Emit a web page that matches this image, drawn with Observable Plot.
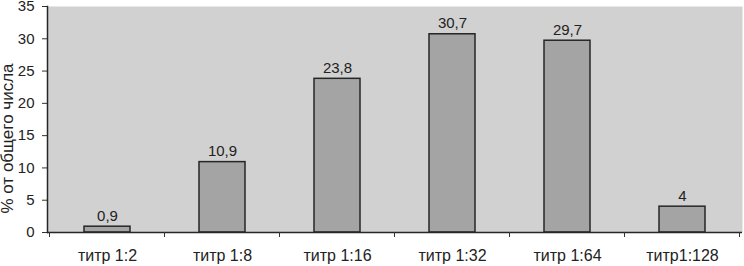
<!DOCTYPE html>
<html>
<head>
<meta charset="utf-8">
<script src="https://cdn.jsdelivr.net/npm/d3@7"></script>
<script src="https://cdn.jsdelivr.net/npm/@observablehq/plot@0.6"></script>
<style>
  body { margin: 0; background: #fff; }
  #chart svg { display: block; }
</style>
</head>
<body>
<div id="chart"></div>
<script>
const categories = ["титр 1:2", "титр 1:8", "титр 1:16", "титр 1:32", "титр 1:64", "титр1:128"];
const values = [0.9, 10.9, 23.8, 30.7, 29.7, 4];
const yTicks = [0, 5, 10, 15, 20, 25, 30, 35];
const yTitle = "% от общего числа";

const data = categories.map((c, i) => ({cat: c, value: values[i]}));
const fmt = v => String(v).replace(".", ",");

const chart = Plot.plot({
  width: 744,
  height: 266,
  marginLeft: 47,
  marginRight: 2,
  marginTop: 6,
  marginBottom: 34,
  style: {fontFamily: "'Liberation Sans', Arial, sans-serif", background: "#fff", color: "#222"},
  x: {type: "band", domain: categories, paddingInner: 0.6, paddingOuter: 0.3},
  y: {domain: [0, 35]},
  marks: [
    Plot.frame({fill: "#d1d1d1", stroke: null}),
    Plot.barY(data, {x: "cat", y: "value", fill: "#a4a4a4", stroke: "#262626", strokeWidth: 1.5}),
    Plot.text(data, {x: "cat", y: "value", text: d => fmt(d.value), dy: -6, lineAnchor: "bottom", fontSize: 15, fill: "#222"}),
    Plot.axisY({ticks: yTicks, tickSize: 5, tickPadding: 8, fontSize: 15, label: null, stroke: "#333"}),
    Plot.axisX({tickSize: 0, tickPadding: 17, fontSize: 16, label: null}),
    Plot.ruleY([0], {stroke: "#262626", strokeWidth: 1.5}),
    Plot.frame({anchor: "left", stroke: "#262626", strokeWidth: 1.5}),
    Plot.text([yTitle], {frameAnchor: "left", rotate: -90, dx: -40, dy: 19, fontSize: 17, textAnchor: "middle", lineAnchor: "middle", fill: "#222"})
  ]
});

document.getElementById("chart").appendChild(chart);

// boundary ticks between categories, positioned from the band scale
const sx = chart.scale("x");
const sy = chart.scale("y");
const gap = (sx.step - sx.bandwidth) / 2;
const y0 = sy.apply(0);
const bounds = categories.map(c => sx.apply(c) - gap);
bounds.push(sx.apply(categories[categories.length - 1]) + sx.bandwidth + gap);
const svg = d3.select(chart.tagName.toLowerCase() === "svg" ? chart : chart.querySelector("svg"));
svg.append("g")
  .attr("stroke", "#333")
  .attr("stroke-width", 1)
  .selectAll("line")
  .data(bounds)
  .join("line")
  .attr("x1", d => d).attr("x2", d => d)
  .attr("y1", y0).attr("y2", y0 + 5);
</script>
</body>
</html>
